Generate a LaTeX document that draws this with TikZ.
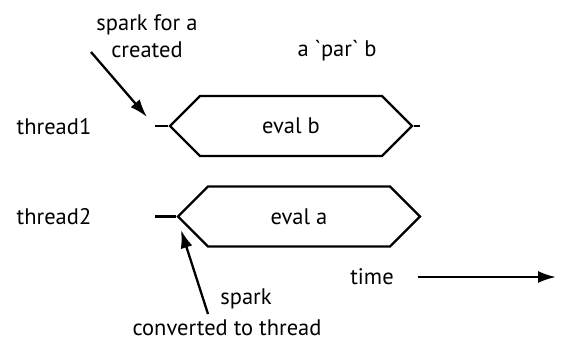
\documentclass[tikz,border=0pt]{standalone}
\usepackage{fontspec}
\setmainfont{PT Sans}
\usetikzlibrary{shapes.symbols,arrows.meta,positioning}

\begin{document}
\begin{tikzpicture}[x=1pt,y=-1pt,line width=2.3pt,
    every node/.style={font=\fontsize{22.5}{27}\selectfont},
    evalbox/.style={draw, signal, signal to=west and east, signal pointer angle=90,
        minimum width=242pt, minimum height=60pt, inner sep=0pt},
    >={Latex[length=18pt,width=12pt]}]
    \useasboundingbox (0,0) rectangle (564,345);

    \node (thread1) at (54,127) {thread1};
    \node (thread2) at (54,217) {thread2};
    \node[evalbox] (evalb) at (291,126) {eval b};
    \node[evalbox] (evala) at (299,216.5) {eval a};
    \node (par) at (337,51) {a \textasciigrave par\textasciigrave\ b};

    \coordinate (start1) at (155,126);
    \coordinate (end1) at (420,126);
    \coordinate (start2) at (155,216.5);
    \draw (start1) -- (evalb.west);
    \draw (evalb.east) -- (end1);
    \draw (start2) -- (evala.west);

    \node[align=center] (created) at (147,36) {spark for a\\created};
    \coordinate (from1) at (91,52);
    \coordinate (tip1) at (147,117);
    \draw[->] (from1) -- (tip1);

    \node (spark) at (246,299) {spark};
    \node (converted) at (227,328) {converted to thread};
    \coordinate (from2) at (208,314);
    \coordinate (tip2) at (181,230);
    \draw[->] (from2) -- (tip2);

    \node (time) at (372,277) {time};
    \coordinate (timeend) at (556,277);
    \draw[->] (time.east) ++(20,0) -- (timeend);
\end{tikzpicture}
\end{document}
